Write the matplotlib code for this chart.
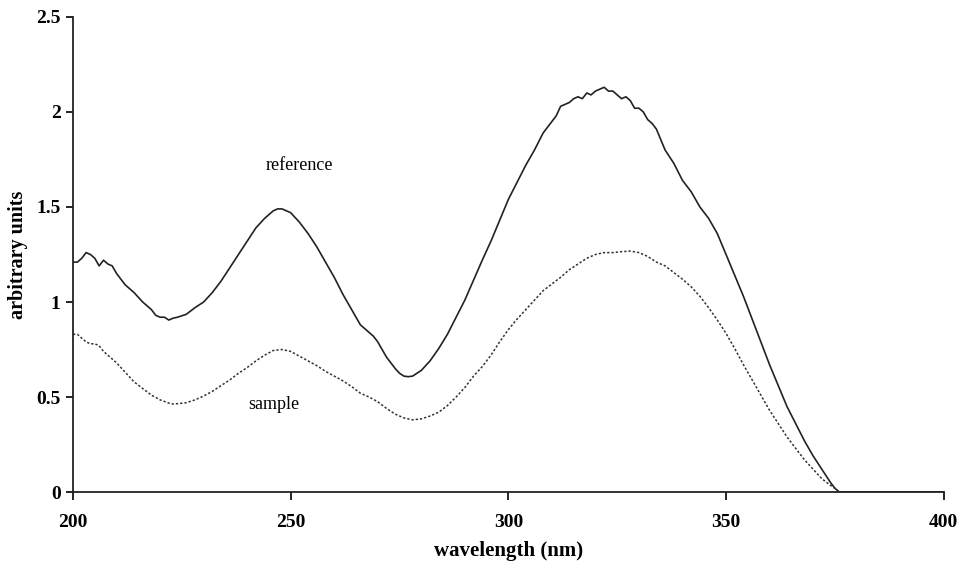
import matplotlib.pyplot as plt
import numpy as np

# spectre de la référence (trait plein)
ref_wl = [200, 201, 202, 203, 204, 205, 206, 207, 208, 209, 210, 212, 214, 216, 218,
          219, 220, 221, 222, 223, 224, 226, 228, 230, 232, 234, 236, 238, 240, 242,
          244, 246, 247, 248, 249, 250, 252, 254, 256, 258, 260, 262, 264, 266, 268,
          269, 270, 271, 272, 273, 274, 275, 276, 277, 278, 279, 280, 282, 284, 286,
          288, 290, 292, 294, 296, 298, 300, 302, 304, 306, 308, 310, 311, 312, 313,
          314, 315, 316, 317, 318, 319, 320, 321, 322, 323, 324, 325, 326, 327, 328,
          329, 330, 331, 332, 333, 334, 336, 338, 340, 342, 344, 346, 348, 350, 352,
          354, 356, 358, 360, 362, 364, 366, 368, 370, 372, 374, 375, 376, 380, 390, 400]
ref_val = [1.21, 1.21, 1.23, 1.26, 1.25, 1.23, 1.19, 1.22, 1.20, 1.19, 1.15, 1.09, 1.05, 1.00, 0.96,
           0.93, 0.92, 0.92, 0.905, 0.915, 0.92, 0.935, 0.97, 1.00, 1.05, 1.11, 1.18, 1.25, 1.32, 1.39,
           1.44, 1.48, 1.49, 1.49, 1.48, 1.47, 1.42, 1.36, 1.29, 1.21, 1.13, 1.04, 0.96, 0.88, 0.84,
           0.82, 0.79, 0.75, 0.71, 0.68, 0.65, 0.625, 0.61, 0.607, 0.61, 0.625, 0.64, 0.69, 0.755, 0.83,
           0.92, 1.01, 1.115, 1.22, 1.32, 1.43, 1.54, 1.63, 1.72, 1.80, 1.89, 1.95, 1.98, 2.03, 2.04,
           2.05, 2.07, 2.08, 2.07, 2.10, 2.09, 2.11, 2.12, 2.13, 2.11, 2.11, 2.09, 2.07, 2.08, 2.06,
           2.02, 2.02, 2.00, 1.96, 1.94, 1.91, 1.80, 1.73, 1.64, 1.58, 1.50, 1.44, 1.36, 1.25, 1.14,
           1.03, 0.91, 0.79, 0.67, 0.56, 0.45, 0.36, 0.27, 0.19, 0.12, 0.05, 0.02, 0.0, 0.0, 0.0, 0.0]

# spectre de l'échantillon (pointillés)
smp_wl = [200, 201, 202, 203, 204, 205, 206, 207, 208, 210, 212, 214, 216, 218, 220,
          222, 223, 224, 226, 228, 230, 232, 234, 236, 238, 240, 242, 244, 246, 248,
          250, 252, 254, 256, 258, 260, 262, 264, 266, 268, 270, 272, 274, 276, 278,
          280, 282, 284, 286, 288, 290, 292, 294, 296, 298, 300, 302, 304, 306, 308,
          310, 312, 314, 316, 318, 320, 322, 324, 326, 328, 330, 332, 334, 336, 338,
          340, 342, 344, 346, 348, 350, 352, 354, 356, 358, 360, 362, 364, 366, 368,
          370, 372, 374, 375, 376, 380, 390, 400]
smp_val = [0.83, 0.83, 0.81, 0.79, 0.78, 0.78, 0.77, 0.74, 0.72, 0.68, 0.63, 0.58, 0.545, 0.51, 0.485,
           0.468, 0.463, 0.465, 0.47, 0.485, 0.505, 0.53, 0.56, 0.59, 0.625, 0.655, 0.69, 0.72, 0.745, 0.75,
           0.74, 0.715, 0.69, 0.665, 0.635, 0.61, 0.585, 0.555, 0.52, 0.50, 0.475, 0.44, 0.41, 0.39, 0.38,
           0.385, 0.40, 0.42, 0.455, 0.50, 0.55, 0.61, 0.66, 0.72, 0.79, 0.855, 0.91, 0.96, 1.01, 1.06,
           1.095, 1.13, 1.17, 1.20, 1.23, 1.25, 1.26, 1.26, 1.265, 1.268, 1.26, 1.24, 1.21, 1.19, 1.155,
           1.12, 1.08, 1.03, 0.97, 0.905, 0.835, 0.755, 0.67, 0.59, 0.51, 0.43, 0.36, 0.29, 0.23, 0.17,
           0.12, 0.07, 0.035, 0.02, 0.0, 0.0, 0.0, 0.0]

x_ticks = [200, 250, 300, 350, 400]
y_ticks = [0, 0.5, 1, 1.5, 2, 2.5]
y_labels = ['0', '0.5', '1', '1.5', '2', '2.5']

plt.rcParams['font.family'] = ['Liberation Serif', 'DejaVu Serif']

fig = plt.figure(figsize=(9.61, 5.66), dpi=100)
ax = fig.add_axes([0.076, 0.1307, 0.906, 0.8393])

ax.plot(ref_wl, ref_val, color='#222222', lw=1.2)
ax.plot(smp_wl, smp_val, color='#333333', lw=1.1, linestyle=(0, (1.5, 1.3)))

ax.text(252, 1.72, 'reference', fontsize=13, ha='center', va='center')
ax.text(246.2, 0.458, 'sample', fontsize=13, ha='center', va='center')

ax.set_xlim(200, 400)
ax.set_ylim(0, 2.5)
ax.set_xticks(x_ticks)
ax.set_yticks(y_ticks)
ax.set_yticklabels(y_labels)

for s in ['top', 'right']:
    ax.spines[s].set_visible(False)
for s in ['left', 'bottom']:
    ax.spines[s].set_linewidth(1.3)
    ax.spines[s].set_color('#222222')

ax.tick_params(axis='x', direction='out', length=6, width=1.2, pad=10, labelsize=14)
ax.tick_params(axis='y', direction='out', length=5, width=1.2, pad=4, labelsize=14)
for lab in ax.get_xticklabels() + ax.get_yticklabels():
    lab.set_fontweight('bold')

ax.set_xlabel('wavelength (nm)', fontsize=15, fontweight='bold', labelpad=7)
ax.set_ylabel('arbitrary units', fontsize=14.5, fontweight='bold', labelpad=6)

fig.savefig('out.png', dpi=100)
